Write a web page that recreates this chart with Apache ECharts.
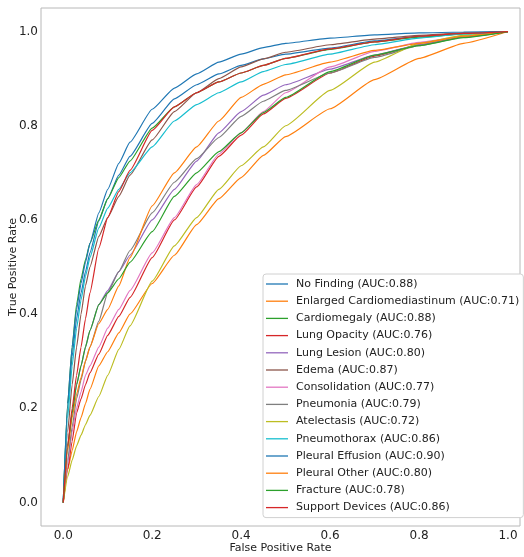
<!DOCTYPE html>
<html>
<head>
<meta charset="utf-8">
<script src="https://cdn.jsdelivr.net/npm/echarts@6/dist/echarts.min.js"></script>
<style>
  html, body { margin: 0; padding: 0; background: #fff; }
  #main { width: 524px; height: 557px; }
</style>
</head>
<body>
<div id="main"></div>
<script>
var chartDom = document.getElementById("main");
var myChart = echarts.init(chartDom);
var option;

// false positive rate grid shared by all curves
const fpr = [0, 0.01, 0.02, 0.03, 0.04, 0.05, 0.06, 0.08, 0.1, 0.125, 0.15, 0.2, 0.25, 0.3, 0.35, 0.4, 0.45, 0.5, 0.6, 0.7, 0.8, 0.9, 1];

const labels = [
  "No Finding", "Enlarged Cardiomediastinum", "Cardiomegaly", "Lung Opacity",
  "Lung Lesion", "Edema", "Consolidation", "Pneumonia", "Atelectasis",
  "Pneumothorax", "Pleural Effusion", "Pleural Other", "Fracture", "Support Devices"
];
const auc = ["0.88", "0.71", "0.88", "0.76", "0.80", "0.87", "0.77", "0.79", "0.72", "0.86", "0.90", "0.80", "0.78", "0.86"];

// true positive rate per label
const noFinding     = [0, 0.20, 0.31, 0.39, 0.445, 0.49, 0.53, 0.598, 0.645, 0.695, 0.735, 0.805, 0.857, 0.887, 0.91, 0.928, 0.942, 0.952, 0.965, 0.98, 0.99, 0.996, 1];
const enlargedCM    = [0, 0.07, 0.11, 0.15, 0.18, 0.21, 0.24, 0.29, 0.32, 0.36, 0.40, 0.465, 0.525, 0.59, 0.645, 0.69, 0.737, 0.777, 0.836, 0.898, 0.943, 0.975, 1];
const cardiomegaly  = [0, 0.21, 0.33, 0.42, 0.475, 0.515, 0.55, 0.60, 0.645, 0.69, 0.725, 0.795, 0.84, 0.87, 0.893, 0.912, 0.928, 0.943, 0.962, 0.978, 0.988, 0.995, 1];
const lungOpacity   = [0, 0.07, 0.13, 0.19, 0.22, 0.25, 0.275, 0.315, 0.355, 0.395, 0.435, 0.52, 0.60, 0.67, 0.735, 0.78, 0.825, 0.858, 0.912, 0.948, 0.972, 0.989, 1];
const lungLesion    = [0, 0.12, 0.19, 0.25, 0.29, 0.33, 0.365, 0.42, 0.45, 0.49, 0.525, 0.60, 0.665, 0.725, 0.785, 0.83, 0.865, 0.887, 0.92, 0.95, 0.972, 0.99, 1];
const edema         = [0, 0.15, 0.25, 0.33, 0.40, 0.46, 0.50, 0.565, 0.605, 0.65, 0.695, 0.77, 0.83, 0.87, 0.90, 0.925, 0.942, 0.956, 0.972, 0.984, 0.992, 0.997, 1];
const consolidation = [0, 0.08, 0.15, 0.20, 0.235, 0.27, 0.29, 0.33, 0.37, 0.41, 0.45, 0.53, 0.605, 0.675, 0.74, 0.785, 0.83, 0.87, 0.925, 0.958, 0.977, 0.99, 1];
const pneumonia     = [0, 0.09, 0.16, 0.22, 0.26, 0.30, 0.33, 0.385, 0.445, 0.49, 0.535, 0.615, 0.68, 0.73, 0.775, 0.82, 0.852, 0.875, 0.912, 0.945, 0.97, 0.988, 1];
const atelectasis   = [0, 0.055, 0.09, 0.12, 0.143, 0.165, 0.185, 0.225, 0.27, 0.325, 0.375, 0.47, 0.545, 0.605, 0.665, 0.715, 0.755, 0.80, 0.875, 0.935, 0.975, 0.992, 1];
const pneumothorax  = [0, 0.18, 0.29, 0.37, 0.43, 0.48, 0.52, 0.583, 0.625, 0.665, 0.70, 0.755, 0.81, 0.845, 0.87, 0.893, 0.915, 0.93, 0.952, 0.972, 0.986, 0.995, 1];
const pleuralEff    = [0, 0.21, 0.33, 0.41, 0.465, 0.51, 0.55, 0.615, 0.665, 0.72, 0.765, 0.835, 0.88, 0.91, 0.935, 0.952, 0.966, 0.975, 0.986, 0.993, 0.997, 0.999, 1];
const pleuralOther  = [0, 0.11, 0.18, 0.23, 0.265, 0.30, 0.33, 0.38, 0.41, 0.46, 0.52, 0.63, 0.70, 0.755, 0.81, 0.86, 0.888, 0.908, 0.935, 0.96, 0.975, 0.99, 1];
const fracture      = [0, 0.12, 0.19, 0.25, 0.29, 0.33, 0.365, 0.42, 0.445, 0.475, 0.51, 0.575, 0.65, 0.70, 0.745, 0.785, 0.828, 0.86, 0.915, 0.95, 0.97, 0.987, 1];
const supportDev    = [0, 0.12, 0.20, 0.27, 0.33, 0.39, 0.445, 0.54, 0.605, 0.66, 0.705, 0.79, 0.84, 0.87, 0.893, 0.912, 0.928, 0.943, 0.963, 0.978, 0.99, 0.996, 1];

const tpr = [noFinding, enlargedCM, cardiomegaly, lungOpacity, lungLesion, edema, consolidation,
  pneumonia, atelectasis, pneumothorax, pleuralEff, pleuralOther, fracture, supportDev];

const colors = ["#1f77b4", "#ff7f0e", "#2ca02c", "#d62728", "#9467bd", "#8c564b", "#e377c2",
  "#7f7f7f", "#bcbd22", "#17becf", "#1f77b4", "#ff7f0e", "#2ca02c", "#d62728"];

const tickFmt = function (v) {
  return Math.abs(v * 5 - Math.round(v * 5)) < 1e-6 ? v.toFixed(1) : "";
};

const series = labels.map(function (lab, i) {
  return {
    name: lab + " (AUC:" + auc[i] + ")",
    type: "line",
    data: fpr.map(function (x, j) { return [x, tpr[i][j]]; }),
    symbol: "none",
    smooth: 0.15,
    smoothMonotone: "x",
    lineStyle: { width: 1.2, color: colors[i] },
    itemStyle: { color: colors[i] },
    emphasis: { disabled: true },
  };
});

option = {
  animation: false,
  textStyle: { fontFamily: "DejaVu Sans" },
  grid: {
    left: 41, top: 8, width: 479, height: 518,
    containLabel: false,
    outerBoundsMode: "none",
    show: true, borderColor: "#b8b8b8", borderWidth: 1,
  },
  xAxis: {
    type: "value",
    min: -0.05,
    max: 1.027,
    splitNumber: 5,
    name: "False Positive Rate",
    nameLocation: "middle",
    nameGap: 17,
    nameMoveOverlap: false,
    nameTextStyle: { fontSize: 11, color: "#222" },
    axisLine: { show: false },
    axisTick: { show: false },
    splitLine: { show: false },
    axisLabel: { fontSize: 12, color: "#222", margin: 4, formatter: tickFmt, showMinLabel: false, showMaxLabel: false },
  },
  yAxis: {
    type: "value",
    min: -0.05,
    max: 1.05,
    splitNumber: 5,
    name: "True Positive Rate",
    nameLocation: "middle",
    nameGap: 22,
    nameMoveOverlap: false,
    nameTextStyle: { fontSize: 11, color: "#222" },
    axisLine: { show: false },
    axisTick: { show: false },
    splitLine: { show: false },
    axisLabel: { fontSize: 12, color: "#222", margin: 3, formatter: tickFmt, showMinLabel: false, showMaxLabel: false },
  },
  legend: {
    orient: "vertical",
    left: 263,
    top: 274,
    icon: "rect",
    itemWidth: 22,
    itemHeight: 1.3,
    itemGap: 3.2,
    padding: [3, 4, 3, 3],
    backgroundColor: "#fff",
    borderColor: "#d0d0d0",
    borderWidth: 1,
    borderRadius: 3,
    textStyle: { fontSize: 11, color: "#222", lineHeight: 14, padding: [0, 0, 0, 3], fontFamily: "DejaVu Sans" },
    data: series.map(function (s) { return s.name; }),
  },
  series: series,
};

option && myChart.setOption(option);
</script>
</body>
</html>
